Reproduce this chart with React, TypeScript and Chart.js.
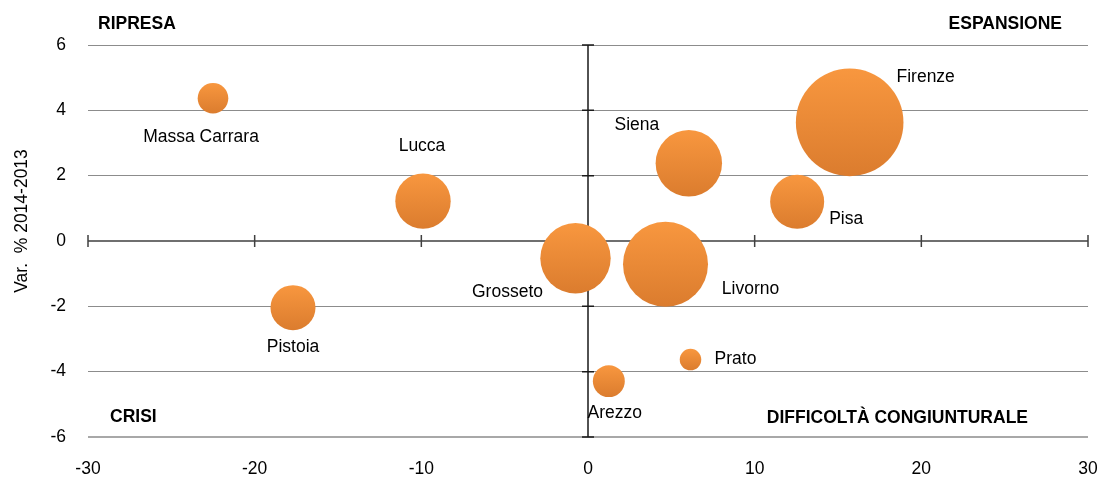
import { useEffect, useRef } from "react";
import { Chart, registerables } from "chart.js";

Chart.register(...registerables);

// Province toscane: variazione % (asse x), variazione % 2014-2013 (asse y), peso relativo (dimensione bolla)
const province = ["Massa Carrara", "Lucca", "Pistoia", "Firenze", "Prato", "Livorno", "Pisa", "Arezzo", "Siena", "Grosseto"];
const varX = [-22.5, -9.9, -17.7, 15.7, 6.15, 4.65, 12.55, 1.25, 6.05, -0.75];
const varY = [4.37, 1.22, -2.04, 3.63, -3.63, -0.71, 1.2, -4.29, 2.38, -0.53];
const peso = [8.1, 26.5, 17.5, 100, 4.0, 62.4, 25.2, 8.8, 38.1, 42.8];

const xTicks = [-30, -20, -10, 0, 10, 20, 30];
const yTicks = [-6, -4, -2, 0, 2, 4, 6];
const titoloY = "Var.  % 2014-2013";
const quadranti = ["RIPRESA", "ESPANSIONE", "CRISI", "DIFFICOLTÀ CONGIUNTURALE"];

const FONT = "'Liberation Sans', Arial, Helvetica, sans-serif";
const FONT_SIZE = 17.5;
const MAX_RADIUS = 53.8;
const CLEAR = "rgba(0,0,0,0)";

// label offsets (px) from each bubble centre, in the order of `province`
const labelOffsets: [number, number][] = [
  [-12, 39], [-1, -55], [0, 40], [76, -45], [45, 0],
  [85, 25], [49, 17], [6, 32], [-52, -38], [-68, 34],
];

const crossAxes = {
  id: "crossAxes",
  beforeDatasetsDraw(chart: any) {
    const { ctx, scales } = chart;
    const xs = scales.x;
    const ys = scales.y;
    const y0 = ys.getPixelForValue(0);
    const x0 = xs.getPixelForValue(0);
    ctx.save();
    // horizontal axis through y = 0
    ctx.strokeStyle = "#404040";
    ctx.lineWidth = 1.5;
    ctx.beginPath();
    ctx.moveTo(xs.left, y0);
    ctx.lineTo(xs.right, y0);
    xTicks.forEach((v) => {
      const px = xs.getPixelForValue(v);
      ctx.moveTo(px, y0 - 6);
      ctx.lineTo(px, y0 + 6);
    });
    ctx.stroke();
    // vertical axis through x = 0
    ctx.strokeStyle = "#1a1a1a";
    ctx.beginPath();
    ctx.moveTo(x0, ys.getPixelForValue(6));
    ctx.lineTo(x0, ys.getPixelForValue(-6));
    yTicks.forEach((v) => {
      const py = ys.getPixelForValue(v);
      ctx.moveTo(x0 - 6, py);
      ctx.lineTo(x0 + 6, py);
    });
    ctx.stroke();
    ctx.restore();
  },
};

const textLayer = {
  id: "textLayer",
  afterDatasetsDraw(chart: any) {
    const { ctx, chartArea } = chart;
    const meta = chart.getDatasetMeta(0);
    ctx.save();
    ctx.fillStyle = "#000";
    ctx.textAlign = "center";
    ctx.textBaseline = "middle";
    ctx.font = `${FONT_SIZE}px ${FONT}`;
    meta.data.forEach((el: any, i: number) => {
      const [dx, dy] = labelOffsets[i];
      ctx.fillText(province[i], el.x + dx, el.y + dy);
    });

    // quadrant captions
    ctx.font = `bold ${FONT_SIZE}px ${FONT}`;
    ctx.textAlign = "left";
    ctx.fillText(quadranti[0], chartArea.left + 10, chartArea.top - 21);
    ctx.fillText(quadranti[2], chartArea.left + 22, chartArea.bottom - 20);
    ctx.textAlign = "right";
    ctx.fillText(quadranti[1], chartArea.right - 26, chartArea.top - 21);
    ctx.fillText(quadranti[3], chartArea.right - 60, chartArea.bottom - 19);

    // y axis title
    ctx.font = `${FONT_SIZE}px ${FONT}`;
    ctx.textAlign = "center";
    ctx.translate(22, (chartArea.top + chartArea.bottom) / 2 - 20);
    ctx.rotate(-Math.PI / 2);
    ctx.fillText(titoloY, 0, 0);
    ctx.restore();
  },
};

export default function App() {
  const canvasRef = useRef<HTMLCanvasElement>(null);

  useEffect(() => {
    document.body.style.margin = "0";
    const canvas = canvasRef.current;
    if (!canvas) return;
    const maxPeso = Math.max(...peso);
    const points = province.map((_, i) => ({
      x: varX[i],
      y: varY[i],
      r: MAX_RADIUS * Math.sqrt(peso[i] / maxPeso),
    }));

    const chart = new Chart(canvas, {
      type: "bubble",
      data: {
        datasets: [
          {
            label: "Province",
            data: points,
            borderWidth: 0,
            hoverBorderWidth: 0,
            backgroundColor: (c: any) => {
              const raw = c.raw;
              const ys = c.chart.scales?.y;
              if (!raw || !ys) return "#EE8A38";
              const cy = ys.getPixelForValue(raw.y);
              if (!Number.isFinite(cy) || !Number.isFinite(raw.r)) return "#EE8A38";
              const g = c.chart.ctx.createLinearGradient(0, cy - raw.r, 0, cy + raw.r);
              g.addColorStop(0, "#F8973F");
              g.addColorStop(1, "#DB7C2E");
              return g;
            },
          },
        ],
      },
      options: {
        responsive: false,
        animation: false,
        events: [],
        layout: { autoPadding: false, padding: { top: 45, right: 15, left: 0, bottom: 0 } },
        plugins: {
          legend: { display: false },
          tooltip: { enabled: false },
        },
        scales: {
          x: {
            type: "linear",
            min: -30,
            max: 30,
            afterBuildTicks: (s: any) => {
              s.ticks = xTicks.map((v) => ({ value: v }));
            },
            afterFit: (s: any) => {
              s.height = 47;
            },
            grid: { display: true, drawOnChartArea: false, drawTicks: true, tickLength: 22, color: CLEAR, tickColor: CLEAR },
            border: { display: false },
            ticks: {
              color: "#000",
              padding: 0,
              maxRotation: 0,
              font: { family: FONT, size: FONT_SIZE },
            },
          },
          y: {
            type: "linear",
            min: -6,
            max: 6,
            afterBuildTicks: (s: any) => {
              s.ticks = yTicks.map((v) => ({ value: v }));
            },
            afterFit: (s: any) => {
              s.width = 88;
            },
            grid: {
              drawTicks: true,
              tickLength: 22,
              tickColor: CLEAR,
              color: (c: any) =>
                c.tick?.value === 0 ? CLEAR : c.tick?.value === -6 ? "#A8A8A8" : "#8C8C8C",
              lineWidth: (c: any) => (c.tick?.value === -6 ? 2 : 1),
            },
            border: { display: false },
            ticks: {
              color: "#000",
              padding: 0,
              font: { family: FONT, size: FONT_SIZE },
            },
          },
        },
      },
      plugins: [crossAxes, textLayer],
    });

    return () => chart.destroy();
  }, []);

  return (
    <div style={{ width: 1103, height: 484, background: "#fff" }}>
      <canvas ref={canvasRef} width={1103} height={484} />
    </div>
  );
}
